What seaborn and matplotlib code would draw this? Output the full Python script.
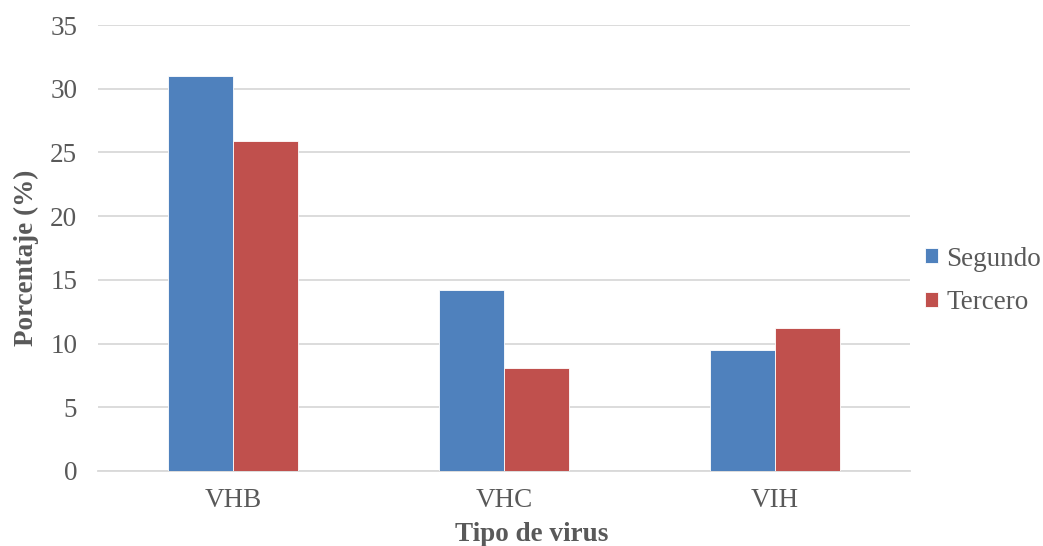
import matplotlib
matplotlib.use("Agg")
import matplotlib.pyplot as plt
import seaborn as sns
import pandas as pd

virus = ["VHB", "VHC", "VIH"]
segundo = [31.0, 14.2, 9.5]
tercero = [25.9, 8.1, 11.2]
series_names = ["Segundo", "Tercero"]
y_ticks = [0, 5, 10, 15, 20, 25, 30, 35]

df = pd.DataFrame({
    "Tipo de virus": virus * 2,
    "Porcentaje": segundo + tercero,
    "Curso": [series_names[0]] * 3 + [series_names[1]] * 3,
})

sns.set_theme(style="white")
plt.rcParams["font.family"] = ["Liberation Serif", "DejaVu Serif"]

FS = 19.5
TXT = "#595959"

fig = plt.figure(figsize=(10.43, 5.46), dpi=100)
ax = fig.add_axes([0.094, 0.1374, 0.7785, 0.8168])

sns.barplot(data=df, x="Tipo de virus", y="Porcentaje", hue="Curso",
            palette=["#4f81bd", "#c0504d"], saturation=1, width=0.48, ax=ax,
            edgecolor="white", linewidth=0.6, errorbar=None, zorder=3)

ax.set_ylim(0, 35)
ax.set_yticks(y_ticks)
ax.yaxis.grid(True, color="#d9d9d9", linewidth=1.3, zorder=0)
ax.set_axisbelow(True)
for s in ["top", "right", "left"]:
    ax.spines[s].set_visible(False)
ax.spines["bottom"].set_color("#d9d9d9")
ax.spines["bottom"].set_linewidth(1.3)
ax.tick_params(axis="both", length=0, labelsize=FS, labelcolor=TXT)
ax.tick_params(axis="y", pad=15)
ax.tick_params(axis="x", pad=12)

ax.set_xlabel("Tipo de virus", fontsize=FS, fontweight="bold", color=TXT)
ax.set_ylabel("Porcentaje (%)", fontsize=FS, fontweight="bold", color=TXT)
ax.xaxis.set_label_coords(0.5345, -0.114)
ax.yaxis.set_label_coords(-0.073, 0.478)

handles, labels = ax.get_legend_handles_labels()
ax.legend(handles, labels, loc="center left", bbox_to_anchor=(0.989, 0.426),
          frameon=False, fontsize=FS, labelcolor=TXT,
          handlelength=0.48, handleheight=0.48, handletextpad=0.3,
          labelspacing=0.7)

fig.savefig("out.png", dpi=100)
